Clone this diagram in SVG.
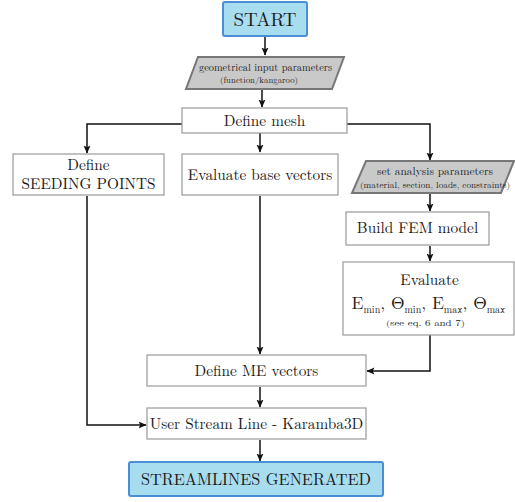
<svg xmlns="http://www.w3.org/2000/svg" width="515" height="502" viewBox="0 0 515 502">
<style>
.t{font-family:'Latin Modern Roman','Liberation Serif','Times New Roman',serif;fill:#1a1a1a;text-anchor:middle}
.lbl{font-size:15.3px}
.box{fill:#fff;stroke:#999;stroke-width:1.2}
.term{fill:#a8dcef;stroke:#4a8ed6;stroke-width:2}
.io{fill:#c9c9c9;stroke:#777;stroke-width:2;stroke-linejoin:miter}
.con path{fill:none;stroke:#111;stroke-width:1.5}
.sub{font-size:10px}
</style>
<defs>
<marker id="ah" viewBox="0 0 8 8" refX="7.5" refY="4" markerWidth="8" markerHeight="8" markerUnits="userSpaceOnUse" orient="auto">
<path d="M0,0.5 L8,4 L0,7.5 L1.8,4 z" fill="#111"/>
</marker>
</defs>
<g class="con">
<path d="M265,37 V55" marker-end="url(#ah)"/>
<path d="M262,90 V107" marker-end="url(#ah)"/>
<path d="M182,124 H87 V153" marker-end="url(#ah)"/>
<path d="M260,133 V152" marker-end="url(#ah)"/>
<path d="M347,124 H430 V160" marker-end="url(#ah)"/>
<path d="M430,194 V211" marker-end="url(#ah)"/>
<path d="M430,246 V261" marker-end="url(#ah)"/>
<path d="M260,196 V354" marker-end="url(#ah)"/>
<path d="M430,335 V371 H367" marker-end="url(#ah)"/>
<path d="M260,387 V407" marker-end="url(#ah)"/>
<path d="M87,196 V425 H146" marker-end="url(#ah)"/>
<path d="M260,440 V461" marker-end="url(#ah)"/>
</g>
<g id="start">
<rect class="term" x="223" y="2" width="84" height="34" rx="2"/>
<text class="t" x="265" y="26" style="font-size:19px">START</text>
</g>
<g id="geo">
<polygon class="io" points="198,57 344,57 332,89 186,89"/>
<text class="t" x="265.5" y="71" style="font-size:10px" textLength="133" lengthAdjust="spacingAndGlyphs">geometrical input parameters</text>
<text class="t" x="259" y="83" style="font-size:8px" textLength="78" lengthAdjust="spacingAndGlyphs">(function/kangaroo)</text>
</g>
<g id="mesh">
<rect class="box" x="182" y="108" width="165" height="25"/>
<text class="t lbl" x="264.5" y="125.5">Define mesh</text>
</g>
<g id="seeding">
<rect class="box" x="13" y="154" width="151" height="41"/>
<text class="t lbl" x="88.5" y="170">Define</text>
<text class="t lbl" x="88.5" y="189">SEEDING POINTS</text>
</g>
<g id="base">
<rect class="box" x="182" y="154" width="156" height="41"/>
<text class="t lbl" x="260" y="179.5">Evaluate base vectors</text>
</g>
<g id="setparams">
<polygon class="io" points="366,161 514,161 501,193 352,193"/>
<text class="t" x="435" y="175" style="font-size:10.5px" textLength="116" lengthAdjust="spacingAndGlyphs">set analysis parameters</text>
<text class="t" x="435" y="187.5" style="font-size:8px" textLength="150" lengthAdjust="spacingAndGlyphs">(material, section, loads, constraints)</text>
</g>
<g id="fem">
<rect class="box" x="346" y="212" width="143" height="33"/>
<text class="t lbl" x="417.5" y="232.5">Build FEM model</text>
</g>
<g id="evaluate">
<rect class="box" x="343" y="262" width="171" height="73"/>
<text class="t lbl" x="429.5" y="285">Evaluate</text>
<text class="t" x="428.5" y="309" style="font-size:17.5px">E<tspan class="sub" dy="4">min</tspan><tspan dy="-4">, Θ</tspan><tspan class="sub" dy="4">min</tspan><tspan dy="-4">, E</tspan><tspan class="sub" dy="4">max</tspan><tspan dy="-4">, Θ</tspan><tspan class="sub" dy="4">max</tspan></text>
<text class="t" x="425.5" y="326" style="font-size:8.5px" textLength="79" lengthAdjust="spacingAndGlyphs">(see eq. 6 and 7)</text>
</g>
<g id="mevectors">
<rect class="box" x="147" y="355" width="219" height="31"/>
<text class="t lbl" x="256.5" y="376">Define ME vectors</text>
</g>
<g id="userstream">
<rect class="box" x="147" y="408" width="219" height="31"/>
<text class="t lbl" x="256.5" y="429">User Stream Line - Karamba3D</text>
</g>
<g id="end">
<rect class="term" x="129" y="462" width="254" height="34" rx="2"/>
<text class="t" x="256" y="485" style="font-size:16.3px">STREAMLINES GENERATED</text>
</g>
</svg>
